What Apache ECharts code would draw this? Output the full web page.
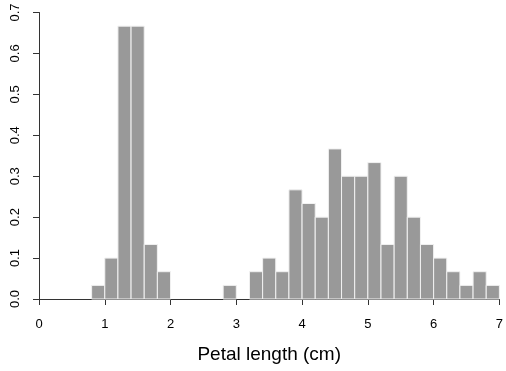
<!DOCTYPE html>
<html>
<head>
<meta charset="utf-8">
<script src="https://cdn.jsdelivr.net/npm/echarts@6/dist/echarts.min.js"></script>
<style>html,body{margin:0;padding:0;background:#fff;}#c{width:506px;height:371px;}</style>
</head>
<body>
<div id="c"></div>
<script>
var binStarts = [0.8,1.0,1.2,1.4,1.6,1.8,2.8,3.2,3.4,3.6,3.8,4.0,4.2,4.4,4.6,4.8,5.0,5.2,5.4,5.6,5.8,6.0,6.2,6.4,6.6,6.8];
var densities = [0.0333,0.1,0.6667,0.6667,0.1333,0.0667,0.0333,0.0667,0.1,0.0667,0.2667,0.2333,0.2,0.3667,0.3,0.3,0.3333,0.1333,0.3,0.2,0.1333,0.1,0.0667,0.0333,0.0667,0.0333];
var binWidth = 0.2;
var xTicks = [0,1,2,3,4,5,6,7];
var yTicks = [0,0.1,0.2,0.3,0.4,0.5,0.6,0.7];

var data = binStarts.map(function(s,i){return [s, s+binWidth, densities[i]];});
var chart = echarts.init(document.getElementById('c'));
var font = '"Liberation Sans", Arial, sans-serif';
chart.setOption({
  animation:false,
  grid:{left:39,right:3,top:12.5,bottom:72,containLabel:false},
  xAxis:{type:'value',min:0,max:7,interval:1,
    name:'Petal length (cm)',nameLocation:'middle',nameGap:46,nameMoveOverlap:false,
    nameTextStyle:{fontFamily:font,fontSize:19,color:'#000'},
    axisLine:{show:true,onZero:false,lineStyle:{color:'#333',width:1}},
    axisTick:{show:true,length:6,lineStyle:{color:'#333'}},
    axisLabel:{fontFamily:font,fontSize:13,color:'#000',margin:19,formatter:function(v){return xTicks.indexOf(v)>=0?String(v):'';}},
    splitLine:{show:false}},
  yAxis:{type:'value',min:0,max:0.7,interval:0.1,
    axisLine:{show:true,lineStyle:{color:'#333',width:1}},
    axisTick:{show:true,length:6,lineStyle:{color:'#333'}},
    axisLabel:{fontFamily:font,fontSize:13,color:'#000',rotate:90,margin:17,
      formatter:function(v){return yTicks.some(function(t){return Math.abs(t-v)<1e-9;})?v.toFixed(1):'';}},
    splitLine:{show:false}},
  series:[{type:'custom',
    data:data,
    encode:{x:[0,1],y:2},
    renderItem:function(params,api){
      var p0 = api.coord([api.value(0), api.value(2)]);
      var p1 = api.coord([api.value(1), 0]);
      return {type:'rect',shape:{x:p0[0],y:p0[1],width:p1[0]-p0[0],height:p1[1]-p0[1]},
        style:{fill:'#999999',stroke:'#f2f2f2',lineWidth:1}};
    }}]
});
</script>
</body>
</html>
